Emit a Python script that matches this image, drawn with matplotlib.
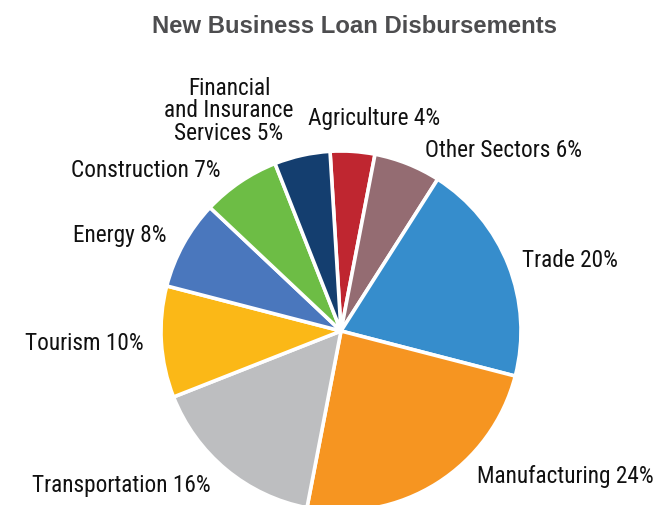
import numpy as np
import matplotlib
matplotlib.use('Agg')
import matplotlib.pyplot as plt
from matplotlib import font_manager

# sector shares, clockwise from the top
sectors = ["Agriculture", "Other Sectors", "Trade", "Manufacturing",
           "Transportation", "Tourism", "Energy", "Construction",
           "Financial\nand Insurance\nServices"]
shares = [4, 6, 20, 24, 16, 10, 8, 7, 5]
colors = ["#BF2630", "#946C72", "#368DCC", "#F69521", "#BDBEC0",
          "#FBB817", "#4A77BD", "#6DBD45", "#143E6F"]

W, H = 661, 506

# narrow face for the labels if one is installed
fonts = font_manager.fontManager.ttflist
installed = {f.name for f in fonts}
label_font, label_stretch = "Roboto", "normal"
for cand in ["Roboto Condensed", "Liberation Sans Narrow", "Noto Sans Condensed",
             "Open Sans Condensed", "DejaVu Sans Condensed"]:
    if cand in installed:
        label_font = cand
        break
else:
    if any(f.name == "DejaVu Sans" and f.stretch == "condensed" and f.style == "normal"
           for f in fonts):
        label_font, label_stretch = "DejaVu Sans", "condensed"
title_font = "Liberation Sans"

fig = plt.figure(figsize=(W / 100, H / 100), dpi=100)
ax = fig.add_axes([0, 0, 1, 1])

cx, cy, R = 341, H - 332, 180
ax.pie(shares, colors=colors, startangle=93.5, counterclock=False,
       center=(cx, cy), radius=R,
       wedgeprops=dict(edgecolor="white", linewidth=2.6))

ax.set_xlim(0, W)
ax.set_ylim(0, H)
ax.set_aspect("equal")
ax.axis("off")

title = fig.text(355 / W, 1 - 33 / H, "New Business Loan Disbursements",
                 ha="center", va="baseline", fontsize=16.5, fontweight="bold",
                 color="#4D4D4F", family=title_font)

# label anchors in pixels from the top-left: (x, baseline y, alignment)
anchors = {
    "Agriculture": (308, 125, "left"),
    "Other Sectors": (425, 157, "left"),
    "Trade": (522, 267, "left"),
    "Manufacturing": (477, 483, "left"),
    "Transportation": (32, 492, "left"),
    "Tourism": (144, 350, "right"),
    "Energy": (166, 242, "right"),
    "Construction": (220, 177, "right"),
}

labels = {}
for name, val in zip(sectors, shares):
    label = f"{name} {val}%"
    if name in anchors:
        x, y, ha = anchors[name]
        t = ax.text(x, H - y, label, ha=ha, va="baseline", fontsize=17.5,
                    color="#111111", family=label_font, fontstretch=label_stretch)
    else:
        t = ax.text(229, H - 140, label, ha="center", va="baseline", fontsize=17.5,
                    color="#111111", family=label_font, fontstretch=label_stretch,
                    linespacing=0.98, multialignment="center")
    labels[name] = t

# size the labels so "Transportation 16%" spans ~178 px, title ~404 px
fig.canvas.draw()
r = fig.canvas.get_renderer()
k = 178 / labels["Transportation"].get_window_extent(r).width
size = min(17.5 * k, 17.5)
for t in labels.values():
    t.set_fontsize(size)
title.set_fontsize(16.5 * 404 / title.get_window_extent(r).width)

fig.savefig("out.png", dpi=100)
